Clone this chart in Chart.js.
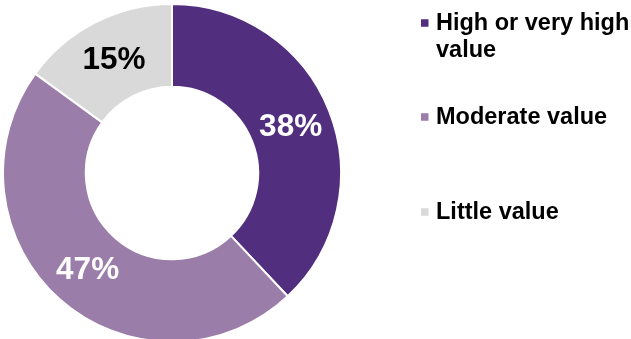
<!DOCTYPE html>
<html>
<head>
<meta charset="utf-8">
<script src="https://cdn.jsdelivr.net/npm/chart.js@4/dist/chart.umd.min.js"></script>
<style>
  html, body { margin: 0; padding: 0; background: #fff; overflow: hidden; }
  #wrap { position: relative; width: 631px; height: 346px; }
</style>
</head>
<body>
<div id="wrap"><canvas id="c"></canvas></div>
<script>
const categories = [["High or very high", "value"], ["Moderate value"], ["Little value"]];
const shares = [38, 47, 15];
const sliceColors = ["#522E7F", "#9B7DAA", "#D9D9D9"];
const labelColors = ["#FFFFFF", "#FFFFFF", "#000000"];
const legendRows = [23, 117, 212];

const FONT = '"Liberation Sans", Arial, Helvetica, sans-serif';

// percentage text at the middle of each ring segment
const sliceLabels = {
  id: 'sliceLabels',
  afterDatasetsDraw(chart) {
    const ctx = chart.ctx;
    const meta = chart.getDatasetMeta(0);
    ctx.save();
    ctx.font = 'bold 31.5px ' + FONT;
    ctx.textAlign = 'center';
    ctx.textBaseline = 'middle';
    meta.data.forEach((arc, i) => {
      const p = arc.tooltipPosition();
      ctx.fillStyle = labelColors[i];
      ctx.fillText(shares[i] + '%', p.x, p.y + 1.5);
    });
    ctx.restore();
  }
};

// legend column to the right of the ring
const sideLegend = {
  id: 'sideLegend',
  afterDraw(chart) {
    const ctx = chart.ctx;
    const boxX = 421, box = 7.5, textX = 436, lineH = 27;
    ctx.save();
    ctx.font = 'bold 23.5px ' + FONT;
    ctx.textAlign = 'left';
    ctx.textBaseline = 'middle';
    categories.forEach((lines, i) => {
      const y = legendRows[i];
      ctx.fillStyle = sliceColors[i];
      ctx.fillRect(boxX, y - box / 2, box, box);
      ctx.fillStyle = '#000000';
      lines.forEach((t, k) => ctx.fillText(t, textX, y + 1 + k * lineH));
    });
    ctx.restore();
  }
};

new Chart(document.getElementById('c'), {
  type: 'doughnut',
  data: {
    labels: categories.map(l => l.join(' ')),
    datasets: [{
      data: shares,
      backgroundColor: sliceColors,
      borderColor: '#FFFFFF',
      borderWidth: 2
    }]
  },
  options: {
    responsive: true,
    maintainAspectRatio: false,
    animation: false,
    cutout: '51%',
    layout: { padding: { left: 2, top: 3, right: 289, bottom: 3 } },
    plugins: {
      legend: { display: false },
      tooltip: { enabled: false }
    }
  },
  plugins: [sliceLabels, sideLegend]
});
</script>
</body>
</html>
